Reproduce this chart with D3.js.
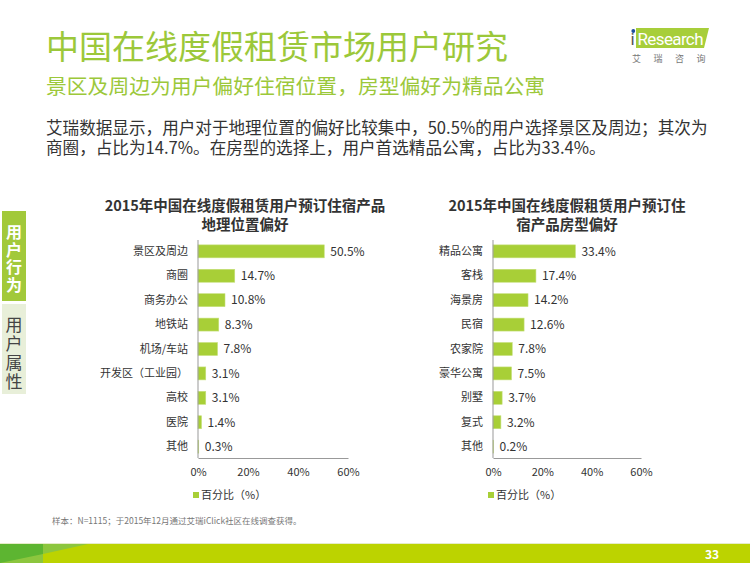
<!DOCTYPE html>
<html><head><meta charset="utf-8">
<script src="https://cdn.jsdelivr.net/npm/d3@7"></script>
<style>body{margin:0;background:#fff;}svg{display:block;font-family:"Noto Sans CJK SC","Noto Sans",sans-serif;}</style>
</head><body>
<script>
const ticks = [0, 20, 40, 60];
const leftTitle = ["2015年中国在线度假租赁用户预订住宿产品", "地理位置偏好"];
const leftCats = ["景区及周边", "商圈", "商务办公", "地铁站", "机场/车站", "开发区（工业园）", "高校", "医院", "其他"];
const leftVals = [50.5, 14.7, 10.8, 8.3, 7.8, 3.1, 3.1, 1.4, 0.3];
const rightTitle = ["2015年中国在线度假租赁用户预订住", "宿产品房型偏好"];
const rightCats = ["精品公寓", "客栈", "海景房", "民宿", "农家院", "豪华公寓", "别墅", "复式", "其他"];
const rightVals = [33.4, 17.4, 14.2, 12.6, 7.8, 7.5, 3.7, 3.2, 0.2];
const legendLabel = "百分比（%）";
const bodyLines = ["艾瑞数据显示，用户对于地理位置的偏好比较集中，50.5%的用户选择景区及周边；其次为",
                   "商圈，占比为14.7%。在房型的选择上，用户首选精品公寓，占比为33.4%。"];

const W = 750, H = 563;
const svg = d3.select("body").append("svg").attr("width", W).attr("height", H);
const green = "#9cc83a";

// header
svg.append("text").attr("x", 46).attr("y", 59).attr("font-size", 33).attr("fill", green).text("中国在线度假租赁市场用户研究");
svg.append("text").attr("x", 46).attr("y", 94).attr("font-size", 20.8).attr("fill", green).text("景区及周边为用户偏好住宿位置，房型偏好为精品公寓");
const body = svg.append("text").attr("y", 134).attr("font-size", 16.6).attr("fill", "#333");
bodyLines.forEach((t, i) => body.append("tspan").attr("x", 46).attr("dy", i ? 20 : 0).text(t));

// logo
svg.append("path").attr("d", "M636,28 L709,28 L704,48 L636,48 Z").attr("fill", "#a7ce3a");
svg.append("text").attr("x", 630.5).attr("y", 45).attr("font-size", 17).attr("font-family", "Roboto,Arial,sans-serif").attr("fill", "#555").text("i");
svg.append("circle").attr("cx", 633.3).attr("cy", 31).attr("r", 1.9).attr("fill", "#1f4e9c");
svg.append("text").attr("x", 637.5).attr("y", 45).attr("font-size", 17).attr("font-family", "Roboto,Arial,sans-serif").attr("fill", "#fff").attr("textLength", 66).text("Research");
svg.append("text").attr("x", 632).attr("y", 62).attr("font-size", 9).attr("fill", "#777").attr("letter-spacing", 12.5).text("艾瑞咨询");

// sidebar
svg.append("rect").attr("x", 2).attr("y", 211).attr("width", 24).attr("height", 90).attr("fill", "#a2c93a");
svg.append("rect").attr("x", 2).attr("y", 304).attr("width", 24).attr("height", 90).attr("fill", "#e8efd9");
svg.append("text").attr("x", 14).attr("y", 224).attr("font-size", 16).attr("font-weight", "bold")
  .attr("fill", "#fff").attr("letter-spacing", 1.5).style("writing-mode", "vertical-rl").text("用户行为");
svg.append("text").attr("x", 14).attr("y", 316).attr("font-size", 17).attr("fill", "#444")
  .attr("letter-spacing", 2).style("writing-mode", "vertical-rl").text("用户属性");

function chart(x0, width, cats, vals, title, titleCx) {
  const g = svg.append("g");
  const x = d3.scaleLinear().domain([0, 60]).range([x0, x0 + width]);
  const y = d3.scaleBand().domain(cats).range([240, 458]).paddingInner(0.47).paddingOuter(0.2);
  const tt = g.append("text").attr("y", 211).attr("font-size", 14.5).attr("font-weight", "bold").attr("text-anchor", "middle").attr("fill", "#333");
  title.forEach((t, i) => tt.append("tspan").attr("x", titleCx).attr("dy", i ? 18.5 : 0).text(t));
  g.selectAll("rect.bar").data(vals).join("rect").attr("class", "bar")
    .attr("x", x(0)).attr("y", (d, i) => y(cats[i]))
    .attr("width", d => x(d) - x(0)).attr("height", y.bandwidth())
    .attr("fill", "#a8cf37").attr("stroke", "#c5e07a").attr("stroke-width", 0.6);
  g.selectAll("text.val").data(vals).join("text").attr("class", "val")
    .attr("x", d => x(d) + 6).attr("y", (d, i) => y(cats[i]) + y.bandwidth() / 2)
    .attr("dy", "0.36em").attr("font-size", 12).attr("fill", "#333").text(d => d.toFixed(1) + "%");
  const ya = g.append("g").attr("transform", `translate(${x0},0)`).call(d3.axisLeft(y).tickSize(0).tickPadding(10));
  ya.select(".domain").attr("stroke", "#999").attr("d", "M0,240V458");
  ya.selectAll("text").attr("font-size", 11).attr("fill", "#333").attr("font-family", "Noto Sans CJK SC");
  const xa = g.append("g").attr("transform", "translate(0,458)").call(d3.axisBottom(x).tickValues(ticks).tickSize(0).tickPadding(10).tickFormat(d => d + "%"));
  xa.select(".domain").attr("stroke", "#999");
  xa.selectAll("text").attr("font-size", 11).attr("fill", "#333").attr("font-family", "Noto Sans CJK SC");
  g.append("rect").attr("x", x0 - 5).attr("y", 492).attr("width", 6).attr("height", 6).attr("fill", "#a8cf37");
  g.append("text").attr("x", x0 + 3).attr("y", 499).attr("font-size", 11).attr("fill", "#333").text(legendLabel);
}
chart(198, 150, leftCats, leftVals, leftTitle, 245);
chart(493, 148, rightCats, rightVals, rightTitle, 567);

// footnote
svg.append("text").attr("x", 52).attr("y", 524).attr("font-size", 8.5).attr("fill", "#777").text("样本：N=1115；于2015年12月通过艾瑞iClick社区在线调查获得。");

// bottom bar
svg.append("rect").attr("x", 0).attr("y", 543).attr("width", W).attr("height", 1).attr("fill", "#e6ecc8");
svg.append("rect").attr("x", 0).attr("y", 544).attr("width", W).attr("height", 19).attr("fill", "#bcd300");
svg.append("rect").attr("x", 0).attr("y", 544).attr("width", 43).attr("height", 19).attr("fill", "#5db531");
svg.append("path").attr("d", "M43,544 L88,544 L43,554 Z").attr("fill", "#8cc63e");
svg.append("path").attr("d", "M0,563 L43,554 L43,563 Z").attr("fill", "#8cc63e");
svg.append("text").attr("x", 712).attr("y", 559).attr("font-size", 12).attr("font-weight", "bold").attr("text-anchor", "middle").attr("fill", "#fff").text("33");
</script>
</body></html>
